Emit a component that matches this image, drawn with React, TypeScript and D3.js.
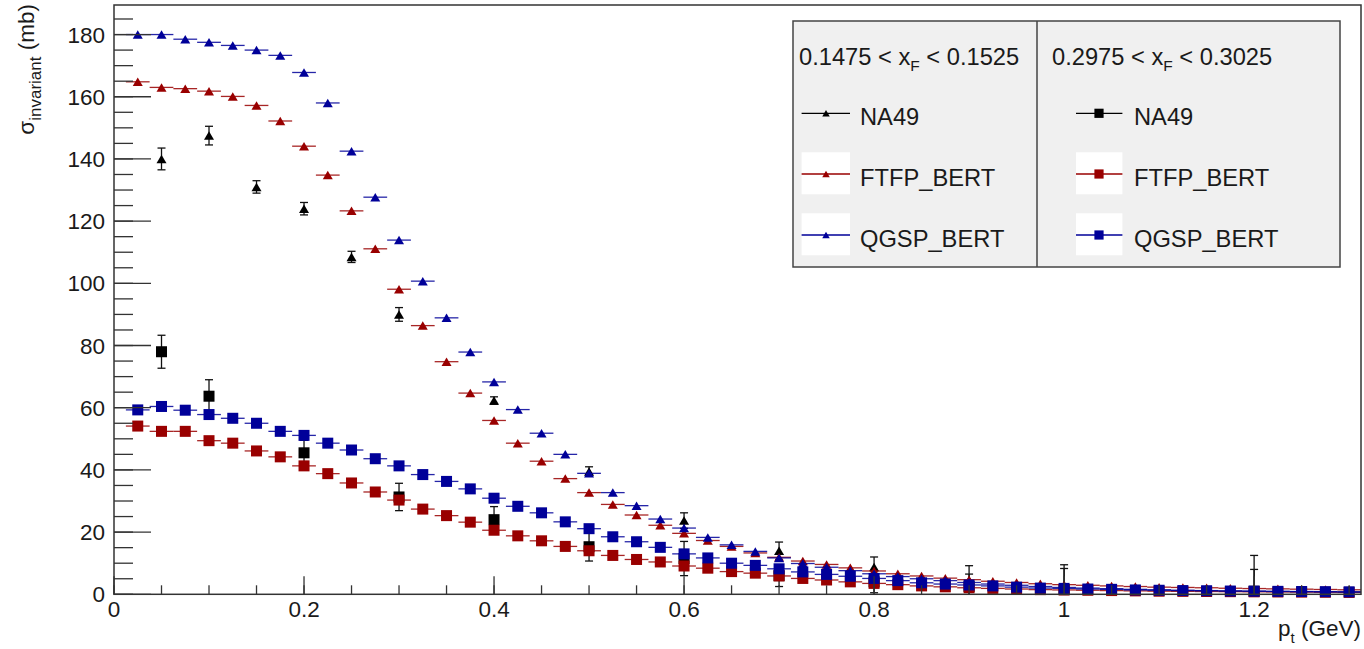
import React from 'react';
import * as d3 from 'd3';

// bin centres of the simulated histograms (GeV)
const binCenters = [
  0.025, 0.05, 0.075, 0.1, 0.125, 0.15, 0.175, 0.2, 0.225, 0.25, 0.275, 0.3, 0.325,
  0.35, 0.375, 0.4, 0.425, 0.45, 0.475, 0.5, 0.525, 0.55, 0.575, 0.6, 0.625, 0.65,
  0.675, 0.7, 0.725, 0.75, 0.775, 0.8, 0.825, 0.85, 0.875, 0.9, 0.925, 0.95, 0.975,
  1.0, 1.025, 1.05, 1.075, 1.1, 1.125, 1.15, 1.175, 1.2, 1.225, 1.25, 1.275, 1.3,
];
const binHalfWidth = 0.0125;

// xF 0.15 (triangles)
const ftfpLow = [
  164.8, 163, 162.6, 161.8, 160.1, 157.2, 152.2, 144.1, 134.8, 123.3, 111.1, 98.1, 86.4,
  74.8, 64.7, 55.9, 48.6, 42.8, 37.2, 32.7, 28.9, 25.5, 22.2, 19.6, 17.3, 15.4,
  13.3, 11.9, 10.7, 9.6, 8.5, 7.5, 6.6, 5.9, 5.2, 4.7, 4.2, 3.8, 3.4,
  3.1, 2.9, 2.7, 2.5, 2.3, 2.2, 2.1, 1.95, 1.85, 1.75, 1.65, 1.55, 1.45,
];
const qgspLow = [
  180, 180, 178.5, 177.5, 176.5, 175, 173.3, 167.8, 158, 142.5, 127.7, 113.9, 100.7,
  88.9, 77.9, 68.3, 59.4, 51.8, 45, 38.9, 32.7, 28.5, 24.2, 21.3, 18.3, 15.9,
  13.8, 11.7, 9.9, 8.7, 7.6, 6.6, 5.7, 5.0, 4.4, 3.8, 3.3, 2.9, 2.5,
  2.2, 2.0, 1.8, 1.6, 1.45, 1.3, 1.2, 1.1, 1.0, 0.9, 0.85, 0.8, 0.75,
];
// xF 0.3 (squares)
const ftfpHigh = [
  54.1, 52.4, 52.4, 49.4, 48.6, 46.1, 44.2, 41.3, 38.8, 35.8, 32.9, 30.3, 27.4,
  25.3, 23.2, 20.6, 18.8, 17.2, 15.4, 14, 12.5, 11.2, 10.4, 9.1, 8.4, 7.3,
  6.8, 5.9, 5.1, 4.6, 4.0, 3.5, 3.1, 2.7, 2.4, 2.1, 1.9, 1.7, 1.5,
  1.4, 1.3, 1.2, 1.1, 1.0, 0.95, 0.9, 0.85, 0.8, 0.75, 0.7, 0.65, 0.6,
];
const qgspHigh = [
  59.3, 60.4, 59.2, 57.8, 56.6, 55, 52.4, 51.1, 48.6, 46.4, 43.6, 41.3, 38.5,
  36.3, 33.9, 30.9, 28.3, 26.2, 23.3, 21.1, 18.5, 16.9, 15.1, 13.0, 11.7, 10.0,
  9.3, 8.2, 7.2, 6.4, 5.8, 5.1, 4.4, 3.7, 3.3, 3.0, 2.7, 2.3, 2.0,
  1.9, 1.7, 1.6, 1.4, 1.3, 1.2, 1.15, 1.05, 1.0, 0.95, 0.9, 0.85, 0.8,
];

// NA49 measurements
const na49LowX = [0.05, 0.1, 0.15, 0.2, 0.25, 0.3, 0.4, 0.5, 0.6, 0.7, 0.8, 0.9, 1.0, 1.2];
const na49LowY = [140, 147.5, 131, 124, 108.5, 90, 62.3, 39.5, 23.7, 14, 8.8, 4.5, 2, 1.5];
const na49LowErr = [3.5, 3, 2, 2, 1.8, 2.2, 1.2, 1.5, 2.5, 2.8, 3.2, 4.7, 7.5, 11];
const na49HighX = [0.05, 0.1, 0.2, 0.3, 0.4, 0.5, 0.6, 0.7, 0.8, 0.9, 1.0, 1.2];
const na49HighY = [78, 63.7, 45.5, 31.3, 24, 15.3, 11.5, 6, 4, 2.5, 1.5, 1];
const na49HighErr = [5.3, 5.3, 4, 4.4, 4.2, 4.6, 5.5, 3.5, 3.5, 4, 6.8, 7];

const xMajorTicks = [0, 0.2, 0.4, 0.6, 0.8, 1, 1.2];
const xTickLabels = ['0', '0.2', '0.4', '0.6', '0.8', '1', '1.2'];
const yMajorTicks = [0, 20, 40, 60, 80, 100, 120, 140, 160, 180];

const RED = '#990000';
const BLUE = '#000099';
const FONT = '"Liberation Sans", Arial, Helvetica, sans-serif';

const W = 1364;
const H = 649;
const left = 114;
const right = 1361;
const top = 5;
const bottom = 594.3;

function triPath(cx: number, cy: number, w: number, h: number) {
  return `M${cx},${cy - h / 2}L${cx + w / 2},${cy + h / 2}L${cx - w / 2},${cy + h / 2}Z`;
}

export default function App() {
  const x = d3.scaleLinear().domain([0, 1.3125]).range([left, right]);
  const y = d3.scaleLinear().domain([0, 189.5]).range([bottom, top]);

  const xMinor = d3.range(0, 1.3125, 0.05);
  const yMinor = d3.range(0, 189, 5);

  const modelBars = (vals: number[], color: string, key: string) =>
    vals.map((v, i) => (
      <line
        key={key + i}
        x1={x(binCenters[i] - binHalfWidth)}
        x2={x(binCenters[i] + binHalfWidth)}
        y1={y(v)}
        y2={y(v)}
        stroke={color}
        strokeWidth={1.3}
        strokeOpacity={0.85}
      />
    ));
  const triMarkers = (vals: number[], color: string, key: string) =>
    vals.map((v, i) => (
      <path key={key + i} d={triPath(x(binCenters[i]), y(v), 10, 8.5)} fill={color} />
    ));
  const sqMarkers = (vals: number[], color: string, key: string) =>
    vals.map((v, i) => (
      <rect key={key + i} x={x(binCenters[i]) - 5.5} y={y(v) - 5.5} width={11} height={11} fill={color} />
    ));

  const errBars = (xs: number[], ys: number[], es: number[], key: string) =>
    xs.map((xv, i) => {
      const lo = Math.max(0, ys[i] - es[i]);
      const hi = ys[i] + es[i];
      const cx = x(xv);
      return (
        <g key={key + i} stroke="#111" strokeWidth={1.3}>
          <line x1={cx} x2={cx} y1={y(lo)} y2={y(hi)} />
          <line x1={cx - 4} x2={cx + 4} y1={y(hi)} y2={y(hi)} />
          {ys[i] - es[i] > 0 && <line x1={cx - 4} x2={cx + 4} y1={y(lo)} y2={y(lo)} />}
        </g>
      );
    });

  // legend geometry
  const lgX0 = 793, lgX1 = 1340, lgY0 = 21, lgY1 = 267, lgDiv = 1037;
  const rowY = [113.3, 174, 235];
  const rowNames = ['NA49', 'FTFP_BERT', 'QGSP_BERT'];
  const rowColors = ['#000', RED, BLUE];
  const cols = [
    { lx0: 801.6, lx1: 850, mx: 826, tx: 860, hx: 799, lo: '0.1475', hi: '0.1525', tri: true },
    { lx0: 1076, lx1: 1122.4, mx: 1099, tx: 1134, hx: 1052, lo: '0.2975', hi: '0.3025', tri: false },
  ];

  return (
    <svg
      width={W}
      height={H}
      style={{ position: 'absolute', left: 0, top: 0, background: '#fff' }}
      fontFamily={FONT}
    >
      <rect x={0} y={0} width={W} height={H} fill="#fff" />

      {/* data: NA49 first, models on top */}
      <g>
        {errBars(na49LowX, na49LowY, na49LowErr, 'el')}
        {na49LowX.map((xv, i) => (
          <path key={'nl' + i} d={triPath(x(xv), y(na49LowY[i]), 10, 8.5)} fill="#000" />
        ))}
        {errBars(na49HighX, na49HighY, na49HighErr, 'eh')}
        {na49HighX.map((xv, i) => (
          <rect key={'nh' + i} x={x(xv) - 5.5} y={y(na49HighY[i]) - 5.5} width={11} height={11} fill="#000" />
        ))}
      </g>
      <g>
        {modelBars(ftfpLow, RED, 'fbl')}
        {triMarkers(ftfpLow, RED, 'fml')}
        {modelBars(ftfpHigh, RED, 'fbh')}
        {sqMarkers(ftfpHigh, RED, 'fmh')}
        {modelBars(qgspLow, BLUE, 'qbl')}
        {triMarkers(qgspLow, BLUE, 'qml')}
        {modelBars(qgspHigh, BLUE, 'qbh')}
        {sqMarkers(qgspHigh, BLUE, 'qmh')}
      </g>

      {/* frame */}
      <rect x={left} y={top} width={right - left} height={bottom - top} fill="none" stroke="#333" strokeWidth={1.5} />

      {/* ticks */}
      <g stroke="#333" strokeWidth={1.3}>
        {yMinor.map((v) => (
          <line key={'ym' + v} x1={left} x2={left + 19} y1={y(v)} y2={y(v)} />
        ))}
        {yMajorTicks.map((v) => (
          <line key={'yM' + v} x1={left} x2={left + 37} y1={y(v)} y2={y(v)} />
        ))}
        {xMinor.map((v, i) => (
          <line key={'xm' + i} x1={x(v)} x2={x(v)} y1={bottom} y2={bottom - 9} />
        ))}
        {xMajorTicks.map((v) => (
          <line key={'xM' + v} x1={x(v)} x2={x(v)} y1={bottom} y2={bottom - 18} />
        ))}
      </g>
      <g fontSize={22.5} fill="#1a1a1a">
        {yMajorTicks.map((v) => (
          <text key={'yl' + v} x={105} y={y(v) + 8} textAnchor="end">
            {v}
          </text>
        ))}
        {xMajorTicks.map((v, i) => (
          <text key={'xl' + v} x={x(v)} y={617} textAnchor="middle">
            {xTickLabels[i]}
          </text>
        ))}
      </g>

      {/* axis titles */}
      <text x={1361} y={636} textAnchor="end" fontSize={22.5} fill="#1a1a1a">
        p<tspan fontSize={15} dy={7}>t</tspan>
        <tspan dy={-7}> (GeV)</tspan>
      </text>
      <text transform="translate(34,4) rotate(-90)" textAnchor="end" fontSize={22.5} fill="#1a1a1a">
        σ<tspan fontSize={17} dy={7}>invariant</tspan>
        <tspan dy={-7}> (mb)</tspan>
      </text>

      {/* legend */}
      <rect x={lgX0} y={lgY0} width={lgX1 - lgX0} height={lgY1 - lgY0} fill="#f0f0f0" stroke="#444" strokeWidth={1.5} />
      <line x1={lgDiv} x2={lgDiv} y1={lgY0} y2={lgY1} stroke="#444" strokeWidth={1.5} />
      {cols.map((c, ci) => (
        <g key={'col' + ci}>
          <text x={c.hx} y={65} fontSize={23.7} fill="#1a1a1a">
            {c.lo} &lt; x<tspan fontSize={15.5} dy={6}>F</tspan>
            <tspan dy={-6}> &lt; {c.hi}</tspan>
          </text>
          {rowNames.map((name, ri) => (
            <g key={name}>
              {ri > 0 && (
                <rect x={c.lx0} y={rowY[ri] - 21.7} width={c.lx1 - c.lx0} height={42} fill="#fff" />
              )}
              <line x1={c.lx0} x2={c.lx1} y1={rowY[ri]} y2={rowY[ri]} stroke={rowColors[ri]} strokeWidth={1.3} />
              {c.tri ? (
                <path d={triPath(c.mx, rowY[ri], 7.5, 6.5)} fill={rowColors[ri]} />
              ) : (
                <rect x={c.mx - 4.6} y={rowY[ri] - 4.6} width={9.2} height={9.2} fill={rowColors[ri]} />
              )}
              <text x={c.tx} y={rowY[ri] + 12} fontSize={23.7} fill="#1a1a1a">
                {name}
              </text>
            </g>
          ))}
        </g>
      ))}
    </svg>
  );
}
